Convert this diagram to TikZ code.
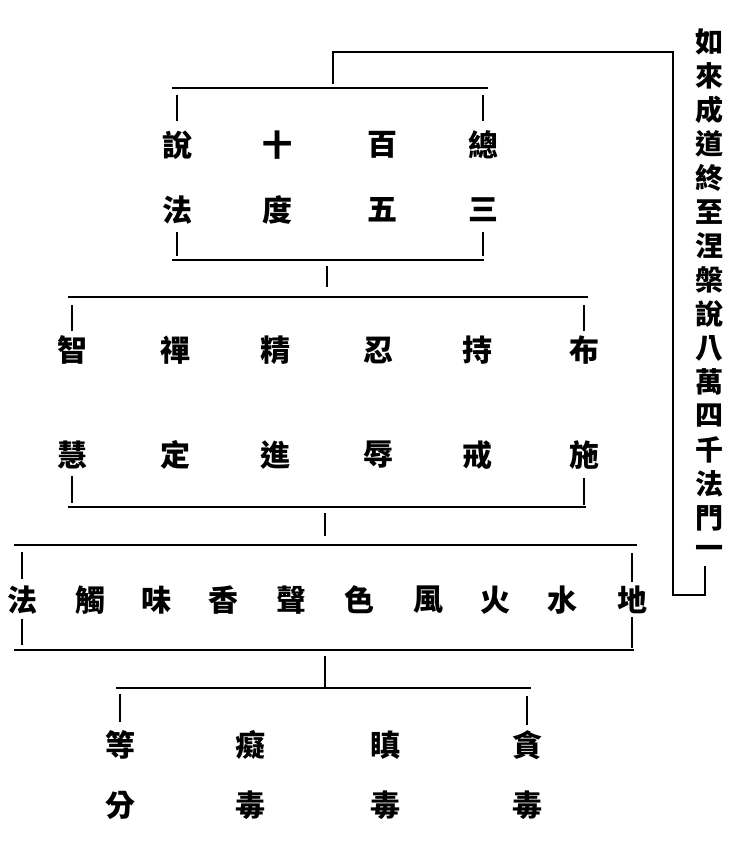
\documentclass[tikz,border=0pt]{standalone}
\usepackage{fontspec}
\newfontfamily\cjk{Noto Sans CJK TC}
\usetikzlibrary{positioning}
\tikzset{
  zi/.style={font=\cjk\bfseries\fontsize{30}{30}\selectfont, inner sep=0pt},
  lie/.style={font=\cjk\bfseries\fontsize{28}{28}\selectfont, inner sep=0pt},
  kuo/.style={line width=1.6pt},
}
\begin{document}
\begin{tikzpicture}[x=1pt,y=-1pt]
\useasboundingbox (0,0) rectangle (741,849);
% right column and outer bracket
\foreach \c [count=\i] in {如,來,成,道,終,至,涅,槃,說,八,萬,四,千,法,門,一}
  \node[lie] (r\i) at (709,{8+34*\i}) {\c};
\coordinate (o1) at (333,52);
\coordinate (o2) at (673,52);
\coordinate (o3) at (673,595);
\coordinate (o4) at (705,595);
\coordinate (o5) at (705,566);
\coordinate (o6) at (333,84);
\draw[kuo] (o5) -- (o4) -- (o3) -- (o2) -- (o1) -- (o6);
% level 1
\foreach \x/\c/\d [count=\i] in {177/說/法,277/十/度,382/百/五,483/總/三} {
  \node[zi] (a\i) at (\x,145) {\c};
  \node[zi] (b\i) at (\x,210) {\d};
}
\coordinate (p1) at (172,88);
\coordinate (p2) at (488,88);
\draw[kuo] (p1) -- (p2);
\draw[kuo] (a1) ++(0,-24) -- ++(0,-26);
\draw[kuo] (a4) ++(0,-24) -- ++(0,-26);
\draw[kuo] (b1) ++(0,22) -- ++(0,24);
\draw[kuo] (b4) ++(0,22) -- ++(0,24);
\coordinate (p3) at (172,260);
\coordinate (p4) at (484,260);
\draw[kuo] (p3) -- (p4);
\coordinate (s1) at (327,266);
\coordinate (s2) at (327,287);
\draw[kuo] (s1) -- (s2);
% level 2
\foreach \x/\c/\d [count=\i] in {72/智/慧,175/禪/定,275/精/進,378/忍/辱,477/持/戒,584/布/施} {
  \node[zi] (c\i) at (\x,350) {\c};
  \node[zi] (d\i) at (\x,455) {\d};
}
\coordinate (q1) at (68,297);
\coordinate (q2) at (588,297);
\draw[kuo] (q1) -- (q2);
\draw[kuo] (c1) ++(0,-19) -- ++(0,-26);
\draw[kuo] (c6) ++(0,-19) -- ++(0,-26);
\draw[kuo] (d1) ++(0,21) -- ++(0,27);
\draw[kuo] (d6) ++(0,23) -- ++(0,27);
\coordinate (q3) at (68,507);
\coordinate (q4) at (586,507);
\draw[kuo] (q3) -- (q4);
\coordinate (s3) at (325,513);
\coordinate (s4) at (325,536);
\draw[kuo] (s3) -- (s4);
% level 3
\foreach \x/\c [count=\i] in {22/法,90/觸,156/味,223/香,291/聲,359/色,428/風,495/火,562/水,632/地}
  \node[zi] (e\i) at (\x,600) {\c};
\coordinate (t1) at (14,545);
\coordinate (t2) at (637,545);
\draw[kuo] (t1) -- (t2);
\draw[kuo] (e1) ++(0,-21) -- ++(0,-27);
\draw[kuo] (e10) ++(0,-18) -- ++(0,-29);
\draw[kuo] (e1) ++(0,19) -- ++(0,26);
\draw[kuo] (e10) ++(0,17) -- ++(0,31);
\coordinate (t3) at (14,650);
\coordinate (t4) at (634,650);
\draw[kuo] (t3) -- (t4);
\coordinate (s5) at (325,656);
\coordinate (s6) at (325,688);
\draw[kuo] (s5) -- (s6);
% level 4
\foreach \x/\c/\d [count=\i] in {120/等/分,250/癡/毒,385/瞋/毒,527/貪/毒} {
  \node[zi] (f\i) at (\x,745) {\c};
  \node[zi] (g\i) at (\x,805) {\d};
}
\coordinate (u1) at (116,688);
\coordinate (u2) at (531,688);
\draw[kuo] (u1) -- (u2);
\draw[kuo] (f1) ++(0,-23) -- ++(0,-28);
\draw[kuo] (f4) ++(0,-20) -- ++(0,-29);
\end{tikzpicture}
\end{document}
